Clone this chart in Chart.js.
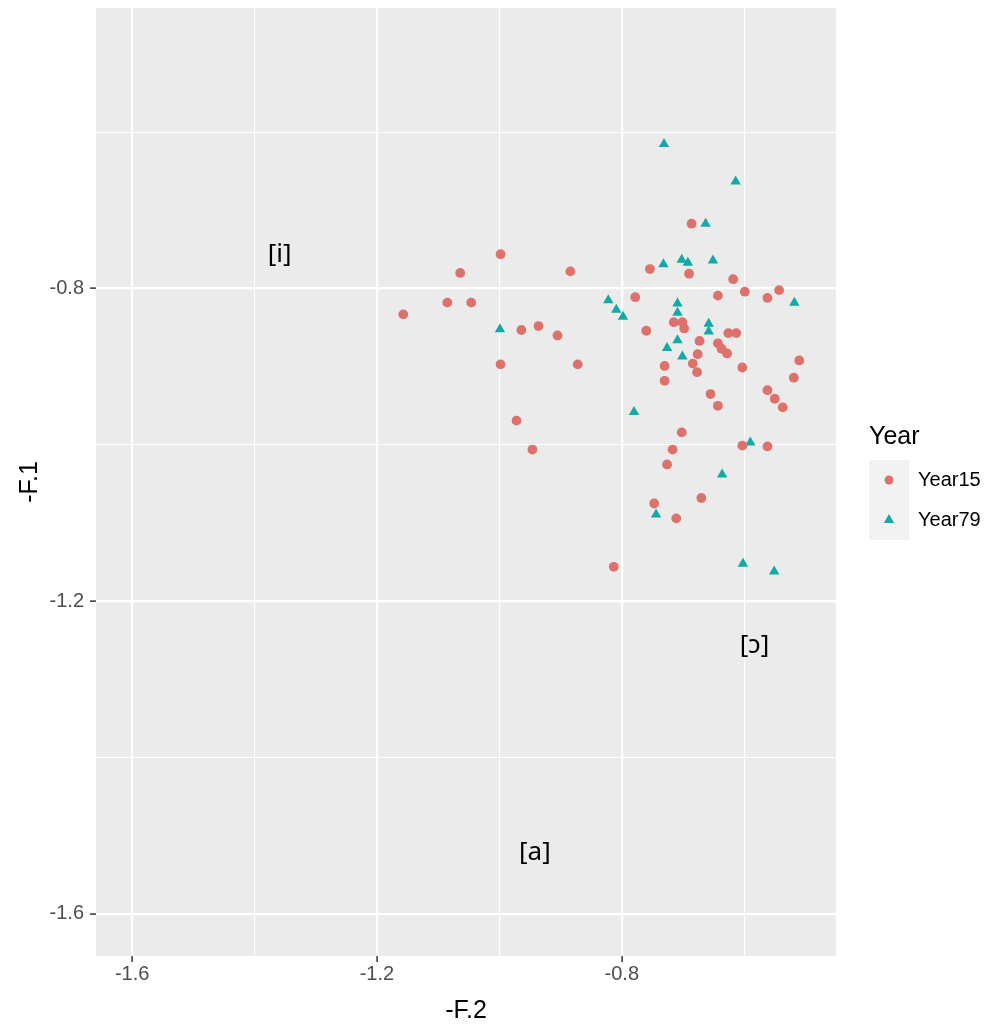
<!DOCTYPE html>
<html><head><meta charset="utf-8">
<script src="https://cdn.jsdelivr.net/npm/chart.js@4.4.1/dist/chart.umd.min.js"></script>
<style>html,body{margin:0;padding:0;background:#fff}canvas{display:block}</style>
</head><body>
<canvas id="c" width="995" height="1026" style="width:995px;height:1026px"></canvas>
<script>
const seriesNames = ['Year15', 'Year79'];
const legendTitle = 'Year';
const xTitle = '-F.2';
const yTitle = '-F.1';

const year15X = [-0.686,-0.998,-1.064,-0.884,-0.754,-0.690,-0.618,-0.643,-0.599,-0.562,-0.543,-1.085,-1.046,-1.157,-0.778,-0.964,-0.936,-0.905,-0.998,-0.872,-0.972,-0.946,-0.760,-0.715,-0.701,-0.698,-0.626,-0.613,-0.673,-0.643,-0.637,-0.628,-0.676,-0.684,-0.677,-0.730,-0.730,-0.603,-0.510,-0.519,-0.562,-0.550,-0.537,-0.655,-0.643,-0.702,-0.717,-0.603,-0.562,-0.726,-0.670,-0.747,-0.711,-0.813];
const year15Y = [-0.717,-0.756,-0.780,-0.778,-0.775,-0.781,-0.788,-0.809,-0.804,-0.812,-0.802,-0.818,-0.818,-0.833,-0.811,-0.853,-0.848,-0.860,-0.897,-0.897,-0.969,-1.006,-0.854,-0.843,-0.843,-0.851,-0.857,-0.857,-0.867,-0.870,-0.877,-0.883,-0.884,-0.896,-0.907,-0.899,-0.918,-0.901,-0.892,-0.914,-0.930,-0.941,-0.952,-0.935,-0.950,-0.984,-1.006,-1.001,-1.002,-1.025,-1.068,-1.075,-1.094,-1.156];
const year79X = [-0.731,-0.614,-0.663,-0.732,-0.702,-0.692,-0.651,-0.518,-0.822,-0.809,-0.798,-0.709,-0.709,-0.658,-0.658,-0.709,-0.726,-0.701,-0.999,-0.780,-0.590,-0.636,-0.744,-0.602,-0.551];
const year79Y = [-0.615,-0.663,-0.717,-0.769,-0.763,-0.767,-0.764,-0.818,-0.815,-0.827,-0.836,-0.819,-0.831,-0.845,-0.855,-0.866,-0.876,-0.887,-0.852,-0.958,-0.997,-1.038,-1.089,-1.152,-1.162];

const xTickValues = [-1.6, -1.4, -1.2, -1.0, -0.8, -0.6];
const yTickValues = [-1.6, -1.4, -1.2, -1.0, -0.8, -0.6];
const majorTickValues = [-1.6, -1.2, -0.8];
const xRange = [-1.659, -0.450];
const yRange = [-1.654, -0.441];

const vowelLabels = ['[i]', '[ɔ]', '[a]'];
const vowelX = [-1.359, -0.583, -0.942];
const vowelY = [-0.756, -1.2565, -1.5216];

const colors = ['#DD716B', '#12A9A6'];
const isMajor = v => majorTickValues.some(m => Math.abs(m - v) < 1e-9);
const fmt = v => v.toFixed(1);

const toPoints = (xs, ys) => xs.map((x, i) => ({x: x, y: ys[i]}));

const panelBg = {
  id: 'panelBg',
  beforeDraw(chart) {
    const {ctx, chartArea: a} = chart;
    ctx.save();
    ctx.fillStyle = '#EBEBEB';
    ctx.fillRect(a.left, a.top, a.right - a.left, a.bottom - a.top);
    ctx.restore();
  }
};

const vowelText = {
  id: 'vowelText',
  afterDatasetsDraw(chart) {
    const {ctx, scales} = chart;
    ctx.save();
    ctx.fillStyle = '#000';
    ctx.font = '26px "Noto Sans", "DejaVu Sans", sans-serif';
    ctx.textAlign = 'center';
    ctx.textBaseline = 'middle';
    vowelLabels.forEach((t, i) => {
      ctx.fillText(t, scales.x.getPixelForValue(vowelX[i]), scales.y.getPixelForValue(vowelY[i]));
    });
    ctx.restore();
  }
};

const ggLegend = {
  id: 'ggLegend',
  afterDraw(chart) {
    const {ctx} = chart;
    const x0 = 869, titleY = 437, keyTop = 460, keySize = 40;
    ctx.save();
    ctx.fillStyle = '#000';
    ctx.font = '25px "Liberation Sans", Arial, sans-serif';
    ctx.textAlign = 'left';
    ctx.textBaseline = 'middle';
    ctx.fillText(legendTitle, x0, titleY);
    seriesNames.forEach((name, i) => {
      const top = keyTop + i * keySize;
      ctx.fillStyle = '#F2F2F2';
      ctx.fillRect(x0, top, keySize, keySize);
      const cx = x0 + keySize / 2, cy = top + keySize / 2;
      ctx.fillStyle = colors[i];
      ctx.beginPath();
      if (i === 0) {
        ctx.arc(cx, cy, 4.5, 0, Math.PI * 2);
      } else {
        const r = 6;
        ctx.moveTo(cx, cy - r);
        ctx.lineTo(cx + r * Math.sin(2 * Math.PI / 3), cy - r * Math.cos(2 * Math.PI / 3));
        ctx.lineTo(cx + r * Math.sin(4 * Math.PI / 3), cy - r * Math.cos(4 * Math.PI / 3));
        ctx.closePath();
      }
      ctx.fill();
      ctx.fillStyle = '#000';
      ctx.font = '20px "Liberation Sans", Arial, sans-serif';
      ctx.fillText(name, x0 + keySize + 9, cy);
    });
    ctx.restore();
  }
};

const gridCfg = {
  color: '#FFFFFF',
  lineWidth: c => (c.tick && isMajor(c.tick.value)) ? 2.2 : 1.1,
  drawTicks: true,
  tickLength: 6,
  tickWidth: 1.5,
  tickColor: c => (c.tick && isMajor(c.tick.value)) ? '#333333' : 'rgba(0,0,0,0)'
};

new Chart(document.getElementById('c'), {
  type: 'scatter',
  data: {
    datasets: [
      {label: seriesNames[0], data: toPoints(year15X, year15Y), pointStyle: 'circle', pointRadius: 4.9, pointHoverRadius: 4.9,
       backgroundColor: colors[0], borderColor: colors[0], borderWidth: 0},
      {label: seriesNames[1], data: toPoints(year79X, year79Y), pointStyle: 'triangle', pointRadius: 6, pointHoverRadius: 6,
       backgroundColor: colors[1], borderColor: colors[1], borderWidth: 0}
    ]
  },
  options: {
    responsive: false,
    devicePixelRatio: 1,
    animation: false,
    events: [],
    layout: {padding: {top: 8, right: 159, bottom: 0, left: 0}},
    plugins: {legend: {display: false}, tooltip: {enabled: false}},
    scales: {
      x: {
        type: 'linear', min: xRange[0], max: xRange[1],
        afterBuildTicks: s => { s.ticks = xTickValues.map(v => ({value: v})); },
        afterFit: s => { s.height = 70; s.paddingLeft = 0; s.paddingRight = 0; },
        border: {display: false},
        grid: gridCfg,
        ticks: {
          autoSkip: false, maxRotation: 0, padding: 2,
          color: '#4D4D4D',
          font: {family: '"Liberation Sans", Arial, sans-serif', size: 20, lineHeight: 1},
          callback: v => isMajor(v) ? fmt(v) : ''
        },
        title: {display: true, text: xTitle, color: '#000', padding: {top: 0, bottom: 2},
          font: {family: '"Liberation Sans", Arial, sans-serif', size: 25, lineHeight: 1}}
      },
      y: {
        type: 'linear', min: yRange[0], max: yRange[1],
        afterBuildTicks: s => { s.ticks = yTickValues.map(v => ({value: v})); },
        afterFit: s => { s.width = 96; s.paddingTop = 0; s.paddingBottom = 0; },
        border: {display: false},
        grid: gridCfg,
        ticks: {
          autoSkip: false, padding: 6,
          color: '#4D4D4D',
          font: {family: '"Liberation Sans", Arial, sans-serif', size: 20, lineHeight: 1},
          callback: v => isMajor(v) ? fmt(v) : ''
        },
        title: {display: true, text: yTitle, color: '#000', padding: {top: 18, bottom: 0},
          font: {family: '"Liberation Sans", Arial, sans-serif', size: 25, lineHeight: 1}}
      }
    }
  },
  plugins: [panelBg, vowelText, ggLegend]
});
</script>
</body></html>
